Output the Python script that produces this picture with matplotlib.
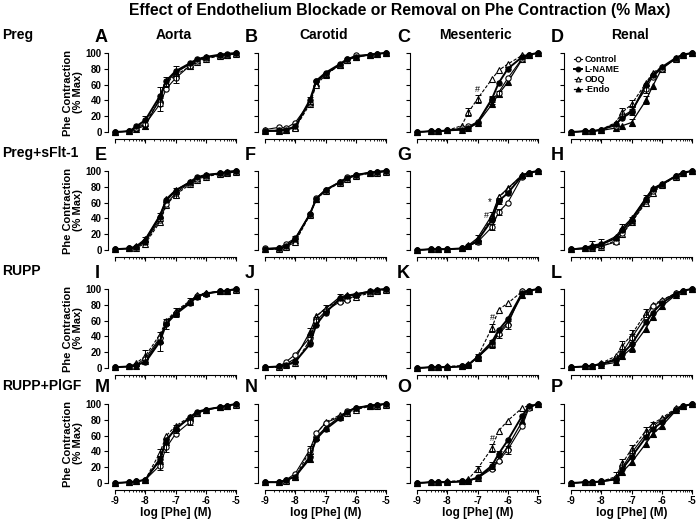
import numpy as np
import matplotlib
matplotlib.use("Agg")
import matplotlib.pyplot as plt

plt.rcParams['font.family'] = ['Liberation Sans', 'DejaVu Sans']
plt.rcParams['font.weight'] = 'bold'

# Phe concentrations (M) used in each curve
conc = [1e-9, 3e-9, 5e-9, 1e-8, 3e-8, 5e-8, 1e-7, 3e-7, 5e-7, 1e-6, 3e-6, 5e-6, 1e-5]

groups = ["Preg", "Preg+sFlt-1", "RUPP", "RUPP+PlGF"]
vessels = ["Aorta", "Carotid", "Mesenteric", "Renal"]
letters = list("ABCDEFGHIJKLMNOP")
treatments = ["Control", "L-NAME", "ODQ", "-Endo"]

# each panel: [control, L-NAME, ODQ, -Endo], % max contraction
panel_A = [[0, 1, 5, 10, 35, 55, 68, 84, 90, 94, 97, 98, 100],
           [0, 1, 7, 15, 45, 65, 77, 87, 92, 95, 98, 99, 100],
           [0, 1, 6, 12, 40, 62, 72, 83, 89, 93, 96, 97, 99],
           [0, 1, 4, 8, 42, 63, 75, 86, 91, 95, 97, 98, 100]]
panel_B = [[3, 6, 5, 12, 37, 64, 73, 85, 92, 97, 98, 99, 100],
           [1, 2, 3, 7, 40, 65, 75, 86, 92, 95, 98, 99, 100],
           [2, 2, 3, 5, 35, 60, 72, 85, 91, 95, 98, 99, 100],
           [1, 1, 3, 6, 38, 62, 74, 85, 91, 95, 98, 99, 100]]
panel_C = [[0, 1, 1, 2, 5, 7, 13, 40, 50, 68, 93, 98, 100],
           [0, 1, 1, 2, 3, 5, 12, 42, 62, 80, 95, 98, 100],
           [0, 1, 1, 2, 8, 25, 42, 67, 78, 86, 97, 98, 100],
           [0, 1, 1, 2, 3, 5, 11, 35, 48, 63, 92, 98, 100]]
panel_D = [[0, 1, 1, 3, 8, 20, 27, 55, 70, 80, 93, 97, 100],
           [0, 1, 1, 3, 10, 18, 25, 60, 72, 82, 94, 98, 100],
           [0, 1, 1, 3, 12, 25, 35, 62, 75, 82, 93, 97, 100],
           [0, 1, 1, 2, 5, 8, 12, 40, 58, 80, 94, 98, 100]]
panel_E = [[1, 2, 4, 10, 38, 58, 72, 85, 90, 94, 97, 98, 100],
           [1, 2, 4, 12, 42, 63, 75, 86, 92, 95, 97, 99, 100],
           [1, 2, 3, 8, 35, 57, 70, 83, 89, 93, 96, 97, 99],
           [1, 2, 5, 14, 44, 65, 76, 86, 91, 95, 97, 99, 100]]
panel_F = [[2, 3, 8, 15, 45, 66, 76, 86, 92, 95, 98, 99, 100],
           [1, 2, 5, 14, 45, 65, 76, 86, 91, 95, 98, 99, 100],
           [1, 1, 4, 10, 44, 64, 75, 85, 90, 94, 97, 98, 99],
           [1, 2, 5, 13, 45, 65, 76, 86, 91, 95, 98, 99, 100]]
panel_G = [[0, 1, 1, 1, 2, 5, 10, 29, 48, 60, 93, 97, 100],
           [0, 1, 1, 1, 2, 5, 12, 38, 62, 72, 94, 98, 100],
           [0, 1, 1, 1, 2, 5, 11, 42, 67, 77, 95, 98, 100],
           [0, 1, 1, 1, 2, 6, 15, 44, 67, 78, 95, 98, 100]]
panel_H = [[1, 2, 3, 5, 10, 22, 35, 62, 75, 82, 94, 98, 100],
           [1, 2, 4, 7, 15, 25, 38, 65, 77, 83, 94, 98, 100],
           [1, 2, 2, 4, 12, 20, 35, 60, 72, 82, 93, 97, 100],
           [1, 3, 6, 8, 17, 28, 40, 66, 78, 84, 94, 98, 100]]
panel_I = [[1, 2, 4, 12, 38, 58, 70, 83, 91, 94, 97, 98, 100],
           [1, 2, 4, 7, 33, 56, 68, 82, 90, 94, 97, 98, 100],
           [1, 2, 6, 15, 42, 60, 72, 85, 92, 95, 97, 98, 99],
           [1, 2, 3, 9, 36, 58, 70, 84, 91, 95, 97, 98, 100]]
panel_J = [[1, 2, 8, 17, 38, 60, 72, 84, 86, 92, 96, 98, 100],
           [1, 2, 4, 8, 30, 55, 70, 88, 91, 93, 97, 99, 100],
           [1, 1, 4, 6, 35, 65, 76, 86, 88, 90, 95, 98, 99],
           [1, 2, 5, 12, 45, 66, 75, 90, 92, 94, 97, 99, 100]]
panel_K = [[0, 1, 1, 1, 2, 4, 14, 30, 43, 55, 97, 98, 100],
           [0, 1, 1, 1, 2, 4, 14, 33, 48, 62, 95, 98, 100],
           [0, 1, 1, 2, 3, 5, 14, 51, 74, 82, 97, 98, 100],
           [0, 1, 1, 1, 2, 4, 13, 30, 45, 58, 93, 98, 100]]
panel_L = [[1, 2, 3, 5, 12, 20, 38, 65, 78, 85, 95, 98, 100],
           [1, 2, 3, 5, 10, 18, 30, 58, 70, 82, 94, 98, 100],
           [1, 2, 3, 6, 15, 28, 42, 70, 80, 86, 95, 98, 100],
           [1, 2, 3, 4, 7, 15, 25, 50, 65, 78, 93, 98, 100]]
panel_M = [[0, 1, 2, 4, 22, 45, 62, 77, 88, 92, 96, 98, 100],
           [0, 1, 2, 4, 30, 55, 68, 83, 90, 93, 96, 98, 100],
           [0, 1, 2, 4, 38, 60, 72, 84, 89, 93, 96, 97, 99],
           [0, 1, 2, 4, 28, 52, 70, 82, 89, 93, 96, 98, 100]]
panel_N = [[1, 1, 4, 12, 42, 63, 76, 84, 91, 95, 98, 99, 100],
           [1, 1, 4, 8, 33, 56, 68, 82, 90, 95, 98, 99, 100],
           [1, 1, 3, 8, 40, 62, 77, 86, 89, 93, 97, 98, 99],
           [1, 1, 4, 8, 30, 58, 70, 84, 90, 95, 98, 99, 100]]
panel_O = [[0, 1, 1, 1, 2, 3, 6, 18, 28, 42, 72, 95, 100],
           [0, 1, 1, 1, 2, 3, 7, 22, 37, 54, 85, 97, 100],
           [0, 1, 1, 2, 3, 5, 18, 44, 66, 79, 95, 98, 100],
           [0, 1, 1, 1, 2, 3, 6, 20, 30, 46, 78, 96, 100]]
panel_P = [[0, 1, 1, 2, 6, 20, 38, 62, 72, 80, 94, 98, 100],
           [0, 1, 1, 2, 5, 18, 33, 58, 68, 77, 93, 97, 100],
           [0, 1, 1, 2, 8, 25, 43, 66, 75, 82, 95, 98, 100],
           [0, 1, 1, 2, 4, 14, 26, 50, 62, 72, 92, 97, 100]]

panels = [panel_A, panel_B, panel_C, panel_D, panel_E, panel_F, panel_G, panel_H,
          panel_I, panel_J, panel_K, panel_L, panel_M, panel_N, panel_O, panel_P]

# visible SEM bars: (treatment index, point index, sem)
sem_bars = {
    'A': [(1, 4, 12), (0, 4, 8), (2, 3, 8), (1, 6, 6), (0, 6, 6), (3, 5, 6), (2, 7, 3)],
    'B': [(1, 4, 4), (2, 6, 3)],
    'C': [(2, 5, 5), (2, 6, 5), (1, 7, 4), (0, 7, 4), (3, 8, 4)],
    'D': [(2, 5, 6), (2, 6, 6), (0, 6, 6), (3, 6, 4), (3, 7, 5), (0, 7, 5)],
    'E': [(1, 3, 5), (1, 4, 5), (1, 6, 4), (2, 6, 4)],
    'F': [(0, 3, 3)],
    'G': [(3, 6, 4), (3, 7, 4), (1, 8, 4), (0, 7, 4), (0, 8, 4)],
    'H': [(3, 2, 5), (3, 3, 6), (3, 5, 5), (1, 6, 4), (1, 7, 4)],
    'I': [(1, 4, 12), (2, 3, 8), (0, 6, 6), (1, 5, 6), (2, 7, 3)],
    'J': [(3, 4, 6), (0, 5, 5), (3, 7, 4), (2, 6, 4)],
    'K': [(2, 6, 4), (2, 7, 5), (3, 7, 5), (0, 8, 5), (0, 9, 5)],
    'L': [(2, 5, 6), (2, 6, 6), (0, 6, 5), (3, 6, 5), (2, 7, 5)],
    'M': [(2, 4, 5), (0, 5, 6), (0, 4, 5), (1, 6, 5), (0, 7, 4)],
    'N': [(0, 4, 5), (3, 4, 4)],
    'O': [(2, 6, 4), (2, 7, 5), (1, 7, 4), (1, 8, 4), (0, 9, 5)],
    'P': [(2, 4, 6), (2, 5, 6), (2, 6, 5), (2, 7, 5), (0, 8, 5), (3, 8, 4)],
}

# significance marks: (letter, text, log conc, % max)
sig_marks = [('C', '#', -7.0, 48), ('G', '*', -6.6, 54), ('G', '#', -6.72, 38),
             ('K', '#', -6.52, 58), ('O', '#', -6.52, 51)]

x = np.log10(conc)

styles = [
    dict(marker='o', mfc='white', mec='black', color='black', lw=0.8, ls='-', ms=3.8, mew=0.8, zorder=4),
    dict(marker='o', mfc='black', mec='black', color='black', lw=1.4, ls='-', ms=3.8, mew=0.8, zorder=5),
    dict(marker='^', mfc='white', mec='black', color='black', lw=0.8, ls=(0, (3, 1.5)), ms=3.8, mew=0.8, zorder=3),
    dict(marker='^', mfc='black', mec='black', color='black', lw=0.9, ls='-', ms=3.8, mew=0.8, zorder=2),
]

W, H = 697, 520
fig = plt.figure(figsize=(W / 100, H / 100), dpi=100)

lefts = [115, 265, 417, 571]
tops = [53, 171, 289, 404]
aw, ah = 121, 79

minor = [d + np.log10(k) for d in range(-9, -5) for k in range(2, 10)]

for r in range(4):
    for c in range(4):
        i = r * 4 + c
        lt = letters[i]
        ax = fig.add_axes([lefts[c] / W, 1 - (tops[r] + ah) / H, aw / W, ah / H])
        data = panels[i]
        handles = {}
        for t in [3, 2, 0, 1]:
            handles[t], = ax.plot(x, data[t], clip_on=False, **styles[t])
        for t, j, s in sem_bars[lt]:
            ax.errorbar(x[j], data[t][j], yerr=s, fmt='none', ecolor='black',
                        elinewidth=0.7, capsize=2, capthick=0.7, zorder=6, clip_on=False)
        for l2, txt, xm, ym in sig_marks:
            if l2 == lt:
                ax.text(xm, ym, txt, ha='center', va='bottom', fontsize=7 if txt == '*' else 6.5,
                        fontweight='normal', zorder=10)

        ax.set_xlim(-9, -5)
        ax.set_ylim(0, 100)
        for sp in ['top', 'right']:
            ax.spines[sp].set_visible(False)
        ax.spines['left'].set_position(('outward', 5))
        ax.spines['bottom'].set_position(('outward', 5))
        ax.spines['left'].set_linewidth(0.8)
        ax.spines['bottom'].set_linewidth(0.8)
        ax.set_yticks([0, 20, 40, 60, 80, 100])
        ax.set_xticks([-9, -8, -7, -6, -5])
        ax.set_xticks(minor, minor=True)
        ax.tick_params(axis='both', which='major', length=3, width=0.8, labelsize=7, pad=1.5)
        ax.tick_params(axis='x', which='minor', length=1.5, width=0.6)
        if c != 0:
            ax.set_yticklabels([])
        else:
            ax.set_ylabel("Phe Contraction\n(% Max)", fontsize=8, fontweight='bold', labelpad=2, linespacing=1.0)
        if r != 3:
            ax.set_xticklabels([])
        else:
            ax.set_xticklabels(['-9', '-8', '-7', '-6', '-5'])
            ax.set_xlabel("log [Phe] (M)", fontsize=8.5, fontweight='bold', labelpad=0.5)
        for lb in ax.get_xticklabels() + ax.get_yticklabels():
            lb.set_fontweight('bold')

        # panel letter
        fig.text((lefts[c] - 20) / W, 1 - (tops[r] - 16) / H, lt, fontsize=13,
                 fontweight='bold', ha='left', va='center')
        if r == 0:
            fig.text((lefts[c] + aw / 2 - 2) / W, 1 - (tops[r] - 18) / H, vessels[c],
                     fontsize=10, fontweight='bold', ha='center', va='center')
        if i == 3:
            ax.legend([handles[k] for k in range(4)], treatments, loc='upper left',
                      bbox_to_anchor=(-0.03, 1.05), frameon=False, handlelength=0.9,
                      handletextpad=0.3, labelspacing=0.1, borderpad=0.2, markerscale=0.9,
                      prop={'weight': 'bold', 'size': 6.5})

    fig.text(2 / W, 1 - (tops[r] - 18) / H, groups[r], fontsize=10, fontweight='bold',
             ha='left', va='center')

fig.text(400 / W, 1 - 10 / H, "Effect of Endothelium Blockade or Removal on Phe Contraction (% Max)",
         fontsize=11.3, fontweight='bold', ha='center', va='center')

fig.savefig("out.png", dpi=100)
